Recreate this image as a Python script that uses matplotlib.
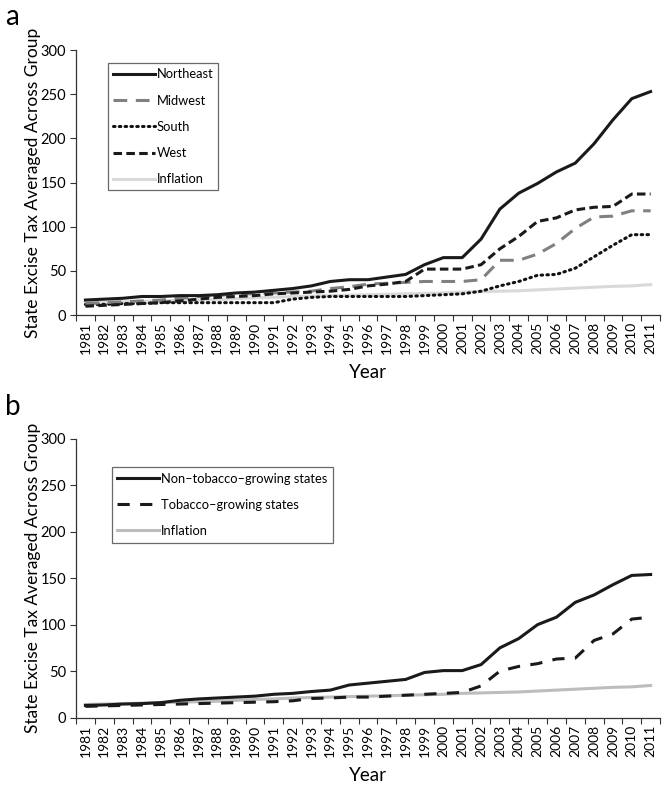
import numpy as np
import matplotlib
matplotlib.use('Agg')
import matplotlib.pyplot as plt

plt.rcParams['font.family'] = ['Lato', 'DejaVu Sans']

# Data
years = [str(y) for y in range(1981, 2012)]

northeast = [17, 18, 19, 21, 21, 22, 22, 23, 25, 26, 28, 30, 33, 38, 40,
             40, 43, 46, 57, 65, 65, 86, 120, 138, 149, 162, 172, 194, 221, 245, 253]
midwest = [13, 14, 15, 16, 17, 19, 21, 22, 24, 24, 25, 26, 27, 30, 32,
           35, 36, 37, 38, 38, 38, 40, 62, 62, 69, 81, 98, 111, 112, 118, 118]
south = [12, 12, 13, 13, 14, 14, 14, 14, 14, 14, 14, 18, 20, 21, 21,
         21, 21, 21, 22, 23, 24, 27, 33, 38, 45, 46, 53, 66, 79, 91, 91]
west = [10, 11, 12, 13, 14, 16, 18, 20, 21, 22, 24, 25, 26, 27, 29,
        33, 35, 38, 52, 52, 52, 57, 75, 89, 106, 110, 119, 122, 123, 137, 137]
inflation = [14, 14.5, 15, 15.5, 16, 16.5, 17, 17.5, 18.5, 19.5, 20, 21, 21.5, 22, 22.5,
             23, 23.5, 24, 24.5, 25, 26, 26.5, 27, 27.5, 28.5, 29.5, 30.5, 31.5, 32.5, 33, 34.5]

non_tobacco = [13, 13.5, 14.5, 15, 16, 18.5, 20, 21, 22, 23, 25, 26, 28, 29.5, 35,
               37, 39, 41, 48.5, 50.5, 50.5, 57, 75, 85, 100, 108, 124, 132, 143, 153, 154]
tobacco = [12, 12.5, 13, 13.5, 14, 14.5, 15, 15.5, 16, 16.5, 17, 18, 20.5, 21, 22,
           22, 23, 24, 25, 26, 27, 34, 50, 55, 58, 63, 64, 83, 90, 106, 108]

x = np.arange(len(years))

fig = plt.figure(figsize=(6.69, 7.87), dpi=100)
ax1 = fig.add_axes([0.1136, 0.5997, 0.873, 0.3367])
ax2 = fig.add_axes([0.1136, 0.0883, 0.873, 0.354])

lw = 2.2


def style_axes(ax):
    ax.set_xlim(-0.5, len(years) - 0.5)
    ax.set_ylim(0, 300)
    ax.set_yticks(range(0, 301, 50))
    ax.set_xticks(x)
    ax.set_xticklabels(years, rotation=90, fontsize=10)
    ax.set_xticks(np.arange(-0.5, len(years), 1), minor=True)
    ax.tick_params(axis='x', which='major', length=0, pad=5)
    ax.tick_params(axis='x', which='minor', length=4, width=0.8, color='#333333')
    ax.tick_params(axis='y', length=4, width=0.8, color='#333333', labelsize=10.5, pad=3)
    for s in ['top', 'right']:
        ax.spines[s].set_visible(False)
    for s in ['left', 'bottom']:
        ax.spines[s].set_color('#333333')
        ax.spines[s].set_linewidth(0.9)
    ax.set_xlabel('Year', fontsize=13.5, labelpad=7)
    ax.set_ylabel('State Excise Tax Averaged Across Group', fontsize=12.5)
    ax.yaxis.set_label_coords(-0.06, 0.5)


# Panel a
ax1.plot(x, inflation, color='#d9d9d9', lw=lw, label='Inflation', zorder=1)
ax1.plot(x, south, color='#111111', lw=lw, ls=(0, (0.5, 1.4)),
         dash_capstyle='round', label='South', zorder=2)
ax1.plot(x, midwest, color='#808080', lw=lw, ls=(0, (4.5, 2.8)), label='Midwest', zorder=3)
ax1.plot(x, west, color='#1a1a1a', lw=lw, ls=(0, (2.8, 1.4)), label='West', zorder=4)
ax1.plot(x, northeast, color='#1a1a1a', lw=lw, label='Northeast', zorder=5)
style_axes(ax1)

h, l = ax1.get_legend_handles_labels()
order = [4, 2, 1, 3, 0]
leg1 = ax1.legend([h[i] for i in order], [l[i] for i in order],
                  loc='upper left', bbox_to_anchor=(0.055, 0.95),
                  fontsize=9.3, handlelength=3.2, handletextpad=0.15,
                  labelspacing=1.1, borderpad=0.4, borderaxespad=0,
                  fancybox=False, frameon=True)
leg1.get_frame().set_edgecolor('#444444')
leg1.get_frame().set_linewidth(0.9)

# Panel b
ax2.plot(x, inflation, color='#bdbdbd', lw=lw, label='Inflation', zorder=1)
ax2.plot(x, tobacco, color='#1a1a1a', lw=lw, ls=(0, (4, 3.4)),
         label='Tobacco\u2013growing states', zorder=2)
ax2.plot(x, non_tobacco, color='#1a1a1a', lw=lw,
         label='Non\u2013tobacco\u2013growing states', zorder=3)
style_axes(ax2)

h, l = ax2.get_legend_handles_labels()
order = [2, 1, 0]
leg2 = ax2.legend([h[i] for i in order], [l[i] for i in order],
                  loc='upper left', bbox_to_anchor=(0.061, 0.9),
                  fontsize=9.3, handlelength=3.2, handletextpad=0.15,
                  labelspacing=1.1, borderpad=0.45, borderaxespad=0,
                  fancybox=False, frameon=True)
leg2.get_frame().set_edgecolor('#444444')
leg2.get_frame().set_linewidth(0.9)

fig.text(0.008, 0.978, 'a', fontsize=20, va='center', ha='left')
fig.text(0.008, 0.483, 'b', fontsize=20, va='center', ha='left')

fig.savefig('out.png', dpi=100)
